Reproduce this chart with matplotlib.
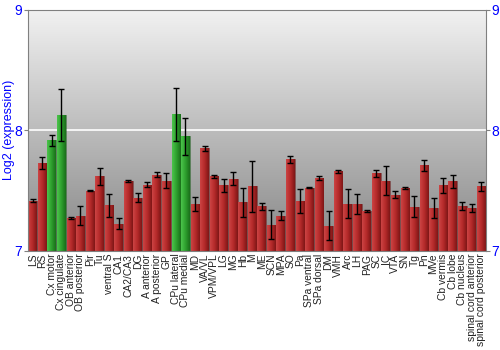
import numpy as np
import matplotlib
matplotlib.use("Agg")
import matplotlib.pyplot as plt
from matplotlib.colors import LinearSegmentedColormap

regions = ["LS", "RS", "Cx motor", "Cx cingulate", "OB anterior", "OB posterior", "Pir", "Tu",
           "ventral S", "CA1", "CA2/CA3", "DG", "A anterior", "A posterior", "GP",
           "CPu lateral", "CPu medial", "MD", "VA/VL", "VPM/VPL", "LG", "MG", "Hb", "M",
           "ME", "SCN", "MPA", "SO", "Pa", "SPa ventral", "SPa dorsal", "DM", "VMH", "Arc",
           "LH", "PAG", "SC", "IC", "VTA", "SN", "Tg", "Pn", "MVe", "Cb vermis", "Cb lobe",
           "Cb nucleus", "spinal cord anterior", "spinal cord posterior"]
values = [7.418, 7.729, 7.917, 8.125, 7.271, 7.291, 7.501, 7.618,
          7.377, 7.227, 7.579, 7.443, 7.551, 7.634, 7.582,
          8.133, 7.950, 7.393, 7.850, 7.618, 7.543, 7.598, 7.404, 7.535,
          7.371, 7.219, 7.294, 7.759, 7.413, 7.526, 7.607, 7.211, 7.659, 7.393,
          7.388, 7.335, 7.643, 7.584, 7.465, 7.521, 7.366, 7.709, 7.357, 7.543, 7.576,
          7.374, 7.357, 7.535]
errors = [0.01, 0.05, 0.047, 0.215, 0.008, 0.078, 0.004, 0.07,
          0.097, 0.047, 0.011, 0.039, 0.024, 0.024, 0.062,
          0.22, 0.155, 0.058, 0.019, 0.011, 0.054, 0.055, 0.122, 0.208,
          0.03, 0.12, 0.037, 0.028, 0.1, 0.004, 0.015, 0.12, 0.011, 0.118,
          0.082, 0.008, 0.028, 0.12, 0.03, 0.008, 0.086, 0.044, 0.08, 0.064, 0.05,
          0.032, 0.03, 0.036]
highlight = ["Cx motor", "Cx cingulate", "CPu lateral", "CPu medial"]

plt.rcParams['font.family'] = ['Liberation Sans', 'DejaVu Sans']

fig = plt.figure(figsize=(5, 3.5), dpi=100)
ax = fig.add_axes([0.056, 0.283, 0.916, 0.689])
x = np.arange(len(regions))
ymin, ymax = 7, 9

# background gradient, light at top
bg = LinearSegmentedColormap.from_list("bg", ["#f2f2f2", "#868686"])
grad = np.linspace(0, 1, 256).reshape(-1, 1)
ax.imshow(grad, cmap=bg, aspect="auto", origin="upper",
          extent=(-0.5, len(regions) - 0.5, ymin, ymax), zorder=0)
ax.axhline(8, color="white", lw=1.2, zorder=1)

red = LinearSegmentedColormap.from_list("r", ["#cc4444", "#b52a2a", "#7e1616"])
green = LinearSegmentedColormap.from_list("g", ["#4cc44c", "#2ea02e", "#1a6e1a"])
hgrad = np.linspace(0, 1, 64).reshape(1, -1)
w = 0.92
for xi, v, name in zip(x, values, regions):
    cm = green if name in highlight else red
    bar = ax.bar(xi, v - ymin, bottom=ymin, width=w, color="none",
                 edgecolor="#6a1a1a" if cm is red else "#1f5f1f", lw=0.4, zorder=2)[0]
    im = ax.imshow(hgrad, cmap=cm, aspect="auto",
                   extent=(xi - w / 2, xi + w / 2, ymin, v), zorder=2)
    im.set_clip_path(bar)

ax.errorbar(x, values, yerr=errors, fmt="none", ecolor="black", elinewidth=1,
            capsize=2.5, capthick=1, zorder=3)

ax.set_xlim(-0.5, len(regions) - 0.5)
ax.set_ylim(ymin, ymax)
ax.set_yticks([7, 8, 9])
ax.tick_params(axis="y", colors="#808080", labelcolor="blue", labelsize=10,
               left=True, right=True, labelleft=True, labelright=True, length=3, pad=1)
ax.set_xticks(x)
ax.set_xticklabels(regions, rotation=90, fontsize=7.4, color="#222222")
ax.tick_params(axis="x", length=0, pad=2)
fig.text(0.018, 0.628, "Log2 (expression)", color="blue", fontsize=9,
         rotation=90, ha="center", va="center")
for s in ax.spines.values():
    s.set_color("#808080")

fig.savefig("out.png", dpi=100)
